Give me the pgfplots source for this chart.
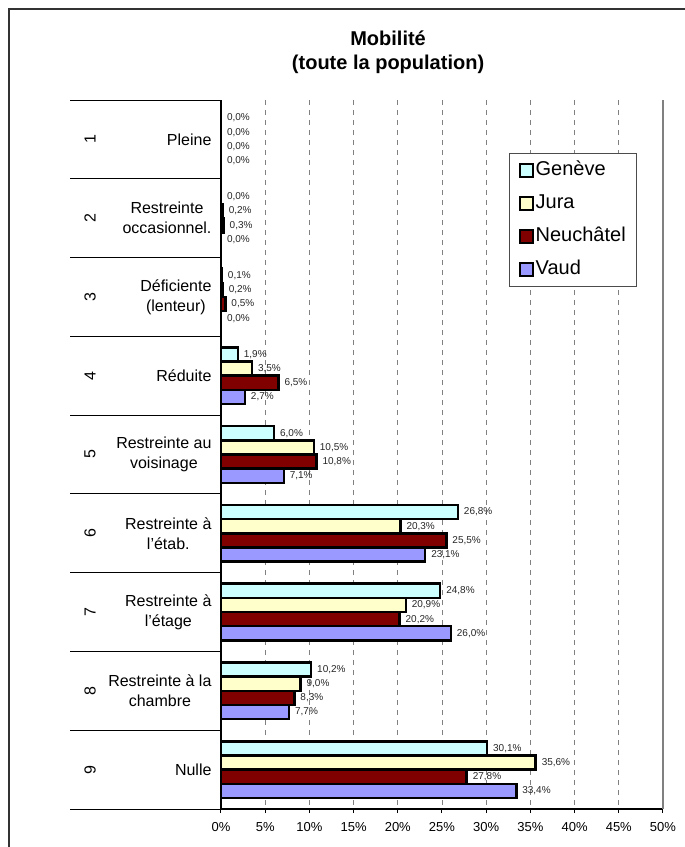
\documentclass[border=0pt]{standalone}
\usepackage{pgfplots}
\pgfplotsset{compat=1.18}
\usepackage{fontspec}
\setmainfont{Liberation Sans}
\definecolor{cgen}{HTML}{CCFFFF}
\definecolor{cjur}{HTML}{FFFFCC}
\definecolor{cneu}{HTML}{800000}
\definecolor{cvau}{HTML}{9999FF}
\pgfplotsset{
  mylegend/.style={legend image code/.code={\draw[##1,line width=2pt] (0pt,-6pt) rectangle (13pt,7pt);}},
}
\begin{document}
\begin{tikzpicture}
\useasboundingbox (-221pt,-38pt) rectangle (464pt,809pt);
\draw[line width=1.5pt, black!80] (-212pt,-38pt) -- (-212pt,800pt) -- (464pt,800pt);
\begin{axis}[
  at={(0pt,0pt)}, anchor=south west, scale only axis, width=442pt, height=709pt,
  xbar=0pt, bar width=0.18,
  y dir=reverse, ymin=0.5, ymax=9.5, ytick={1,...,9},
  yticklabels={Pleine,{Restreinte\\occasionnel.},{Déficiente\\(lenteur)},Réduite,{Restreinte au\\voisinage},{Restreinte à\\l'étab.},{Restreinte à\\l'étage},{Restreinte à la\\chambre},Nulle},
  yticklabel style={align=center, font=\fontsize{16}{20}\selectfont, xshift=-2pt},
  xmin=0, xmax=50, xtick={0,5,...,50},
  xticklabels={0\%,5\%,10\%,15\%,20\%,25\%,30\%,35\%,40\%,45\%,50\%},
  xticklabel style={font=\fontsize{13}{15}\selectfont, yshift=-6pt},
  axis x line*=bottom, axis y line*=left,
  axis line style={black, line width=1.2pt},
  xtick style={black, line width=1pt}, major tick length=4pt, tick align=outside,
  ytick style={draw=none},
  xmajorgrids, major grid style={gray, dash pattern=on 5pt off 5pt, line width=0.8pt},
  clip=false,
  point meta=x,
  nodes near coords={\pgfmathprintnumber[assume math mode=true,fixed,fixed zerofill,precision=1,use comma]{\pgfplotspointmeta}\%},
  every node near coord/.append style={black!85, anchor=west, xshift=1.5pt, font=\fontsize{10}{12}\selectfont},
  title={Mobilité\\(toute la population)},
  title style={at={(0.378,1)}, anchor=center, yshift=42pt, align=center, font=\fontsize{20}{24}\bfseries\selectfont},
  legend style={at={(0.652,0.925)}, anchor=north west, draw=black!70, line width=1pt, fill=white,
    font=\fontsize{20}{24}\selectfont, row sep=11pt, inner xsep=9pt, inner ysep=6pt,
    nodes={inner sep=2pt, text height=14pt, text depth=4pt, anchor=west}},
  legend cell align=left,
]
\addplot[fill=cgen, draw=black, line width=2.5pt, mylegend] coordinates {(0,1) (0,2) (0.1,3) (1.9,4) (6.0,5) (26.8,6) (24.8,7) (10.2,8) (30.1,9)};
\addplot[fill=cjur, draw=black, line width=2.5pt, mylegend] coordinates {(0,1) (0.2,2) (0.2,3) (3.5,4) (10.5,5) (20.3,6) (20.9,7) (9.0,8) (35.6,9)};
\addplot[fill=cneu, draw=black, line width=2.5pt, mylegend] coordinates {(0,1) (0.3,2) (0.5,3) (6.5,4) (10.8,5) (25.5,6) (20.2,7) (8.3,8) (27.8,9)};
\addplot[fill=cvau, draw=black, line width=2.5pt, mylegend] coordinates {(0,1) (0,2) (0,3) (2.7,4) (7.1,5) (23.1,6) (26.0,7) (7.7,8) (33.4,9)};
\legend{Genève, Jura, Neuchâtel, Vaud}
\draw[gray, line width=1.5pt] (rel axis cs:1,0) -- (rel axis cs:1,1);
\draw[black, line width=1pt] (axis cs:0,0.5) -- ++(-151pt,0pt);
\draw[black, line width=1pt] (axis cs:0,1.5) -- ++(-151pt,0pt);
\draw[black, line width=1pt] (axis cs:0,2.5) -- ++(-151pt,0pt);
\draw[black, line width=1pt] (axis cs:0,3.5) -- ++(-151pt,0pt);
\draw[black, line width=1pt] (axis cs:0,4.5) -- ++(-151pt,0pt);
\draw[black, line width=1pt] (axis cs:0,5.5) -- ++(-151pt,0pt);
\draw[black, line width=1pt] (axis cs:0,6.5) -- ++(-151pt,0pt);
\draw[black, line width=1pt] (axis cs:0,7.5) -- ++(-151pt,0pt);
\draw[black, line width=1pt] (axis cs:0,8.5) -- ++(-151pt,0pt);
\draw[black, line width=1pt] (axis cs:0,9.5) -- ++(-151pt,0pt);
\node[rotate=90, font=\fontsize{16}{19}\selectfont] at ([xshift=-131pt]axis cs:0,1) {1};
\node[rotate=90, font=\fontsize{16}{19}\selectfont] at ([xshift=-131pt]axis cs:0,2) {2};
\node[rotate=90, font=\fontsize{16}{19}\selectfont] at ([xshift=-131pt]axis cs:0,3) {3};
\node[rotate=90, font=\fontsize{16}{19}\selectfont] at ([xshift=-131pt]axis cs:0,4) {4};
\node[rotate=90, font=\fontsize{16}{19}\selectfont] at ([xshift=-131pt]axis cs:0,5) {5};
\node[rotate=90, font=\fontsize{16}{19}\selectfont] at ([xshift=-131pt]axis cs:0,6) {6};
\node[rotate=90, font=\fontsize{16}{19}\selectfont] at ([xshift=-131pt]axis cs:0,7) {7};
\node[rotate=90, font=\fontsize{16}{19}\selectfont] at ([xshift=-131pt]axis cs:0,8) {8};
\node[rotate=90, font=\fontsize{16}{19}\selectfont] at ([xshift=-131pt]axis cs:0,9) {9};
\end{axis}
\end{tikzpicture}
\end{document}
